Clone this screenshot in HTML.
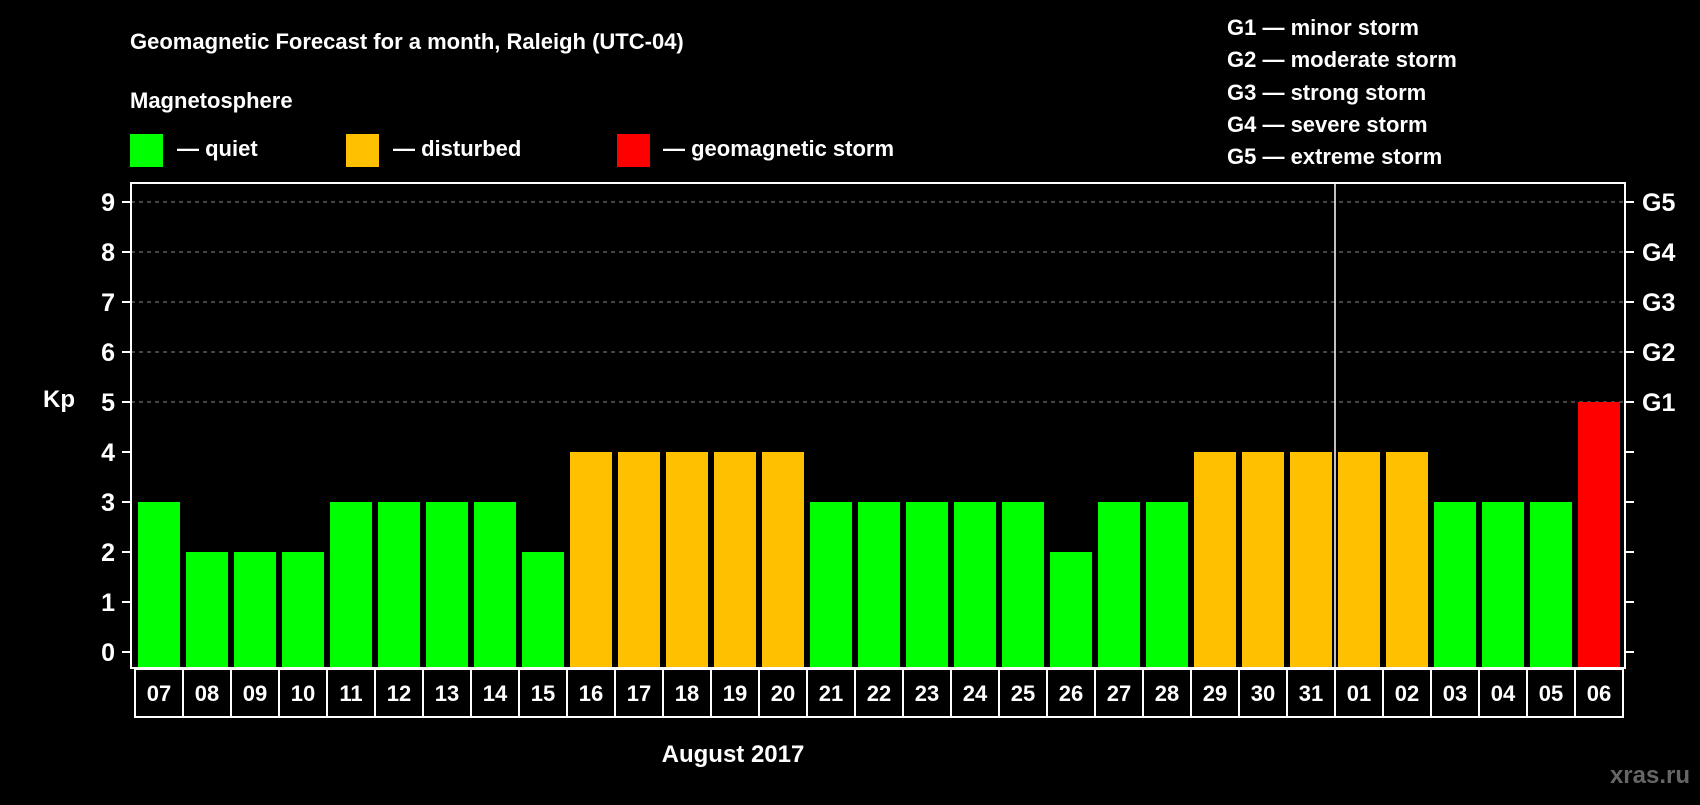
<!DOCTYPE html>
<html><head><meta charset="utf-8"><style>
body{margin:0;background:#000;width:1700px;height:800px;overflow:hidden}
svg{font-family:"Liberation Sans",sans-serif;font-weight:bold}
</style></head><body>
<svg id="c" width="1700" height="800">
<text x="130" y="49" fill="#fff" font-size="22">Geomagnetic Forecast for a month, Raleigh (UTC-04)</text>
<text x="130" y="108" fill="#fff" font-size="22">Magnetosphere</text>
<rect x="130" y="134" width="33" height="33" fill="#00ff00"/>
<text x="177" y="156" fill="#fff" font-size="22">— quiet</text>
<rect x="346" y="134" width="33" height="33" fill="#ffc000"/>
<text x="393" y="156" fill="#fff" font-size="22">— disturbed</text>
<rect x="617" y="134" width="33" height="33" fill="#ff0000"/>
<text x="663" y="156" fill="#fff" font-size="22">— geomagnetic storm</text>
<g fill="#fff" font-size="22">
<text x="1227" y="35">G1 — minor storm</text>
<text x="1227" y="67">G2 — moderate storm</text>
<text x="1227" y="100">G3 — strong storm</text>
<text x="1227" y="132">G4 — severe storm</text>
<text x="1227" y="164">G5 — extreme storm</text>
</g>
<text x="43" y="407" fill="#fff" font-size="24">Kp</text>
<text x="733" y="762" fill="#fff" font-size="24" text-anchor="middle">August 2017</text>
<text x="1690" y="783" fill="#666" font-size="24" text-anchor="end">xras.ru</text>
<g id="plot"></g>
</svg>
<script>
const days=["07","08","09","10","11","12","13","14","15","16","17","18","19","20","21","22","23","24","25","26","27","28","29","30","31","01","02","03","04","05","06"];
const kp=[3,2,2,2,3,3,3,3,2,4,4,4,4,4,3,3,3,3,3,2,3,3,4,4,4,4,4,3,3,3,5];
const yTicks=[0,1,2,3,4,5,6,7,8,9];
const gLabels=["G1","G2","G3","G4","G5"];
const monthBreak=25;
const NS="http://www.w3.org/2000/svg";
const g=document.getElementById('plot');
const L=131,R=1625,T=183,B=668;
const y=v=>652-v*50;
const x=i=>138+i*48;
function mk(t,a){const e=document.createElementNS(NS,t);for(const k in a)e.setAttribute(k,a[k]);g.appendChild(e);return e;}
yTicks.forEach(v=>{
 if(v>=5){const l=mk('line',{x1:L,x2:R,y1:y(v),y2:y(v),stroke:'#888','stroke-dasharray':'4,4'});
 
 }
 mk('line',{x1:L-9,x2:L,y1:y(v),y2:y(v),stroke:'#fff','stroke-width':2});
 mk('line',{x1:R,x2:R+9,y1:y(v),y2:y(v),stroke:'#fff','stroke-width':2});
 const t=mk('text',{x:115,y:y(v)+9,fill:'#fff','font-size':25,'text-anchor':'end'});t.textContent=v;
 
 
 if(v>=5){const r=mk('text',{x:1642,y:y(v)+9,fill:'#fff','font-size':25});r.textContent=gLabels[v-5];
 
 }
});
kp.forEach((v,i)=>{
 const c=v>=5?'#ff0000':v>=4?'#ffc000':'#00ff00';
 const b=mk('rect',{x:x(i),y:y(v),width:42,height:B-y(v),fill:c});
 
 
 const bx=mk('rect',{x:135+i*48,y:669,width:48,height:48,fill:'none',stroke:'#fff','stroke-width':2});
 const t=mk('text',{x:135+i*48+24,y:701,fill:'#fff','font-size':22,'text-anchor':'middle'});t.textContent=days[i];
 
 
});
const ml=mk('line',{x1:x(monthBreak)-3,x2:x(monthBreak)-3,y1:T,y2:B,stroke:'#fff','stroke-width':1.5});


const ax=mk('path',{d:`M${L} ${T}H${R}V${B}H${L}Z`,fill:'none',stroke:'#fff','stroke-width':2});


</script>
</body></html>
